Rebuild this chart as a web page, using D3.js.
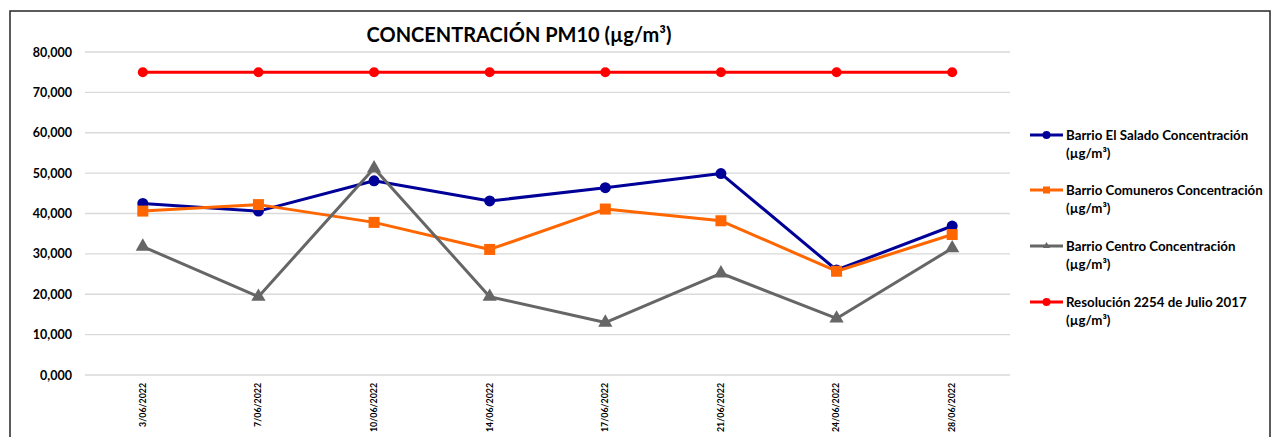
<!DOCTYPE html>
<html>
<head>
<meta charset="utf-8">
<script src="https://cdn.jsdelivr.net/npm/d3@7"></script>
<style>
  body { margin: 0; background: #fff; }
  text { font-family: Lato, "Open Sans", sans-serif; font-weight: bold; fill: #000; }
</style>
</head>
<body>
<svg id="chart"></svg>
<script>
let w = 1277;
let h = 437;

// data
let dates = ["3/06/2022", "7/06/2022", "10/06/2022", "14/06/2022", "17/06/2022", "21/06/2022", "24/06/2022", "28/06/2022"];
let salado = [42500, 40600, 48100, 43100, 46400, 49900, 26000, 36900];
let comuneros = [40600, 42200, 37800, 31100, 41100, 38200, 25700, 34800];
let centro = [31800, 19400, 51200, 19400, 13000, 25200, 14000, 31400];
let resolucion = [75000, 75000, 75000, 75000, 75000, 75000, 75000, 75000];
let yTicks = [0, 10000, 20000, 30000, 40000, 50000, 60000, 70000, 80000];
let seriesNames = [
  ["Barrio El Salado Concentración", "(µg/m³)"],
  ["Barrio Comuneros Concentración", "(µg/m³)"],
  ["Barrio Centro Concentración", "(µg/m³)"],
  ["Resolución 2254 de Julio 2017", "(µg/m³)"]
];

let series = [
  { values: salado, color: "#000099", marker: "circle", size: 5.5 },
  { values: comuneros, color: "#ff6600", marker: "square", size: 11 },
  { values: centro, color: "#666666", marker: "triangle", size: 14 },
  { values: resolucion, color: "#ff0000", marker: "circle", size: 5 }
];

let svg = d3.select("#chart").attr("width", w).attr("height", h);

// outer frame
svg.append("rect")
  .attr("x", 10).attr("y", 11)
  .attr("width", 1260).attr("height", 440)
  .attr("fill", "none")
  .attr("stroke", "#262626")
  .attr("stroke-width", 1.5);

let xScale = d3.scaleBand().domain(dates).range([85, 1010]);
let yScale = d3.scaleLinear().domain([0, 80000]).range([375, 52]);
let xc = (i) => xScale(dates[i]) + xScale.bandwidth() / 2;

// gridlines
svg.append("g")
  .selectAll("line")
  .data(yTicks)
  .join("line")
  .attr("x1", 85).attr("x2", 1010)
  .attr("y1", d => yScale(d)).attr("y2", d => yScale(d))
  .attr("stroke", "#d9d9d9")
  .attr("stroke-width", 1.3);

// y axis
let yAxis = d3.axisLeft(yScale)
  .tickValues(yTicks)
  .tickSize(0)
  .tickPadding(13)
  .tickFormat(d => d3.format(",")(d / 1000) + ",000");
let yAxisGroup = svg.append("g")
  .attr("transform", "translate(85,0)")
  .call(yAxis);
yAxisGroup.select(".domain").remove();
yAxisGroup.selectAll("text")
  .style("font-family", "Lato, 'Open Sans', sans-serif")
  .style("font-weight", "bold")
  .style("font-size", "12.5px")
  .attr("fill", "#000");

// x axis labels
let xAxis = d3.axisBottom(xScale).tickSize(0).tickPadding(0);
let xAxisGroup = svg.append("g")
  .attr("transform", "translate(0,375)")
  .call(xAxis);
xAxisGroup.select(".domain").remove();
xAxisGroup.selectAll("text")
  .attr("transform", "rotate(-90)")
  .attr("x", -8).attr("y", 0).attr("dy", "0.32em")
  .style("text-anchor", "end")
  .style("font-family", "Lato, 'Open Sans', sans-serif")
  .style("font-weight", "bold")
  .style("font-size", "8.8px")
  .attr("fill", "#000");

// markers
function drawMarker(g, type, size, color) {
  if (type === "circle") {
    g.append("circle").attr("r", size).attr("fill", color);
  } else if (type === "square") {
    g.append("rect")
      .attr("x", -size / 2).attr("y", -size / 2)
      .attr("width", size).attr("height", size)
      .attr("fill", color);
  } else {
    g.append("path")
      .attr("d", d3.symbol().type(d3.symbolTriangle).size(size * size * 0.45)())
      .attr("fill", color);
  }
}

let line = d3.line().x((d, i) => xc(i)).y(d => yScale(d));

series.forEach(s => {
  svg.append("path")
    .datum(s.values)
    .attr("fill", "none")
    .attr("stroke", s.color)
    .attr("stroke-width", 3)
    .attr("stroke-linejoin", "round")
    .attr("d", line);
  s.values.forEach((v, i) => {
    let g = svg.append("g").attr("transform", `translate(${xc(i)},${yScale(v)})`);
    drawMarker(g, s.marker, s.size, s.color);
  });
});

// title
svg.append("text")
  .attr("x", 519).attr("y", 42)
  .attr("text-anchor", "middle")
  .style("font-size", "20px")
  .text("CONCENTRACIÓN PM10 (µg/m³)");

// legend
let legendY = [135, 190, 246, 302];
series.forEach((s, i) => {
  let g = svg.append("g").attr("transform", `translate(1030,${legendY[i]})`);
  g.append("line")
    .attr("x1", 0).attr("x2", 33)
    .attr("stroke", s.color).attr("stroke-width", 3);
  let lg = g.append("g").attr("transform", "translate(16.5,0)");
  drawMarker(lg, s.marker, s.marker === "circle" ? 4 : 7, s.color);
  g.append("text")
    .attr("x", 36).attr("y", 0).attr("dy", "0.35em")
    .style("font-size", "13.3px")
    .text(seriesNames[i][0]);
  g.append("text")
    .attr("x", 36).attr("y", 18).attr("dy", "0.35em")
    .style("font-size", "13.3px")
    .text(seriesNames[i][1]);
});
</script>
</body>
</html>
